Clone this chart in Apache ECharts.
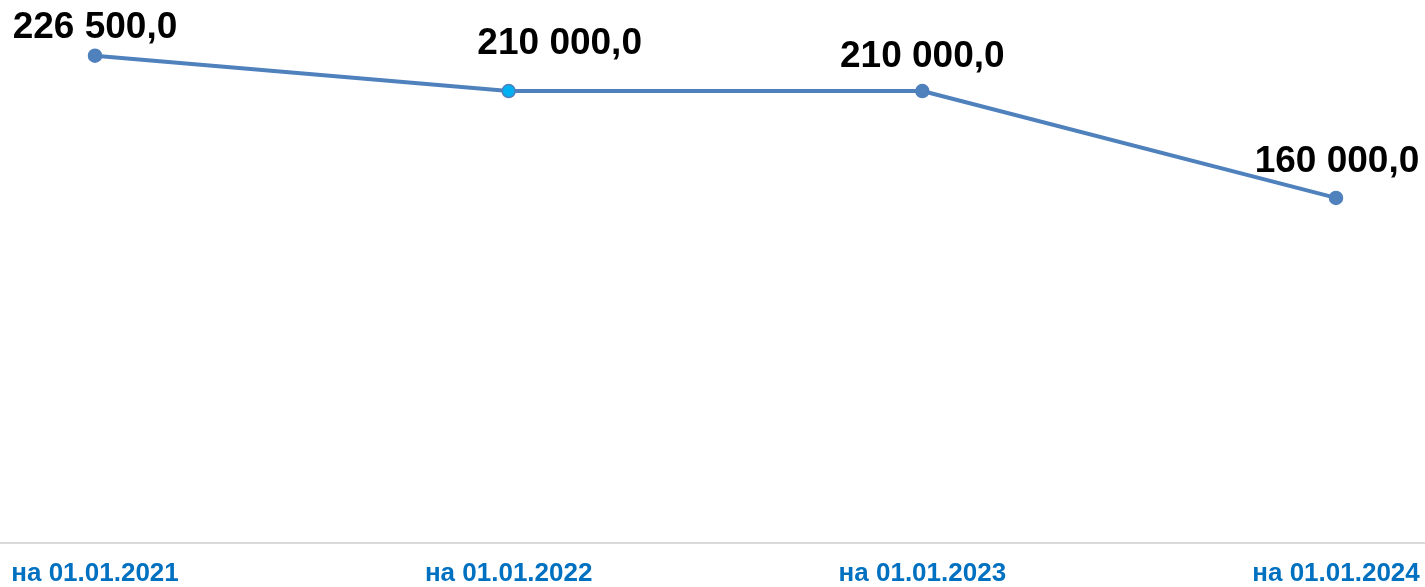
<!DOCTYPE html>
<html>
<head>
<meta charset="utf-8">
<script src="https://cdn.jsdelivr.net/npm/echarts@6/dist/echarts.min.js"></script>
<style>
html,body{margin:0;padding:0;background:#fff;}
#chart{width:1425px;height:587px;}
</style>
</head>
<body>
<div id="chart"></div>
<script>
var categories = ['на 01.01.2021', 'на 01.01.2022', 'на 01.01.2023', 'на 01.01.2024'];
var values = [226500, 210000, 210000, 160000];
var labelOffsets = [[0, -2], [51, -21], [0, -8], [1, -10]];
var pointColors = ['#4F81BD', '#00B0F0', '#4F81BD', '#4F81BD'];

function fmt(v) {
  var s = Math.round(v).toString().replace(/\B(?=(\d{3})+(?!\d))/g, ' ');
  return s + ',0';
}

var chart = echarts.init(document.getElementById('chart'));
var seriesData = values.map(function (v, i) {
  return {
    value: v,
    itemStyle: { color: pointColors[i], borderColor: '#4F81BD', borderWidth: 1.5 },
    label: { offset: labelOffsets[i] }
  };
});

chart.setOption({
  animation: false,
  backgroundColor: '#fff',
  grid: [
    { left: 95, right: 89, top: 5.5, bottom: 44, containLabel: false },
    { left: 0, right: 0, top: 5.5, bottom: 44, containLabel: false }
  ],
  xAxis: [
    {
      type: 'category', gridIndex: 0, data: categories, boundaryGap: false,
      axisLine: { show: false }, axisTick: { show: false }, splitLine: { show: false },
      axisLabel: {
        color: '#0070C0', fontWeight: 'bold', fontSize: 26,
        fontFamily: 'Liberation Sans, Arial, sans-serif', margin: 21, interval: 0
      }
    },
    {
      type: 'category', gridIndex: 1, data: ['a'], boundaryGap: true,
      axisLine: { show: true, lineStyle: { color: '#D9D9D9', width: 2 } },
      axisTick: { show: false }, axisLabel: { show: false }, splitLine: { show: false }
    }
  ],
  yAxis: [
    { type: 'value', gridIndex: 0, min: 0, max: 250000, show: false, splitLine: { show: false } },
    { type: 'value', gridIndex: 1, min: 0, max: 1, show: false, splitLine: { show: false } }
  ],
  series: [{
    type: 'line',
    xAxisIndex: 0, yAxisIndex: 0,
    data: seriesData,
    symbol: 'circle',
    symbolSize: 13,
    lineStyle: { color: '#4F81BD', width: 4 },
    label: {
      show: true, position: 'top', distance: 0,
      color: '#000', fontWeight: 'bold', fontSize: 37,
      fontFamily: 'Liberation Sans, Arial, sans-serif',
      formatter: function (p) { return fmt(p.value); }
    }
  }]
});
</script>
</body>
</html>
